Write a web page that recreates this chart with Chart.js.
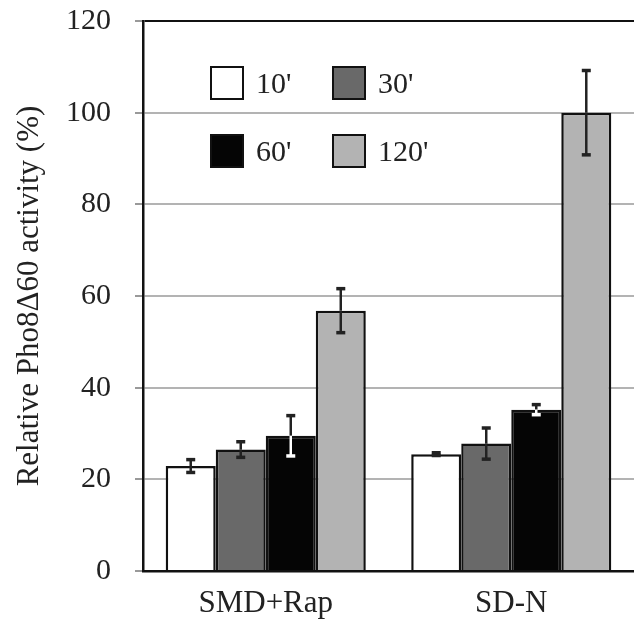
<!DOCTYPE html>
<html>
<head>
<meta charset="utf-8">
<script src="https://cdn.jsdelivr.net/npm/chart.js@4"></script>
<style>
  html, body { margin: 0; padding: 0; background: #fff; overflow: hidden; }
  #wrap { position: relative; width: 634px; height: 621px; }
  #legend { position: absolute; left: 210px; top: 66px; font-family: "Liberation Serif", serif; font-size: 30px; color: #222; }
  .item { position: absolute; display: flex; align-items: center; white-space: nowrap; }
  .box { width: 30px; height: 30px; border: 2px solid #111; margin-right: 12px; }
</style>
</head>
<body>
<div id="wrap">
  <canvas id="chartCanvas" width="634" height="621"></canvas>
  <div id="legend"></div>
</div>
<script>
const categories = ["SMD+Rap", "SD-N"];
const seriesLabels = ["10'", "30'", "60'", "120'"];
const seriesColors = ["#ffffff", "#696969", "#050505", "#b3b3b3"];
const values10 = [22.9, 25.5];
const values30 = [26.5, 27.8];
const values60 = [29.5, 35.2];
const values120 = [56.8, 100];
const err10 = [1.4, 0.3];
const err30 = [1.7, 3.4];
const err60 = [4.4, 1.1];
const err120 = [4.8, 9.2];
const yTicks = [0, 20, 40, 60, 80, 100, 120];

const seriesValues = [values10, values30, values60, values120];
const seriesErrors = [err10, err30, err60, err120];
const font = "Liberation Serif";

// error bars drawn from the y scale; the part inside the black bar is white
const errorBars = {
  id: "errorBars",
  afterDatasetsDraw(chart) {
    const ctx = chart.ctx;
    const y = chart.scales.y;
    chart.data.datasets.forEach((ds, i) => {
      const meta = chart.getDatasetMeta(i);
      meta.data.forEach((bar, j) => {
        const v = ds.data[j];
        const e = ds.errors[j];
        const yTop = y.getPixelForValue(v + e);
        const yMid = y.getPixelForValue(v);
        const yBot = y.getPixelForValue(v - e);
        ctx.save();
        ctx.lineWidth = 2.5;
        ctx.strokeStyle = "#222";
        ctx.beginPath();
        ctx.moveTo(bar.x, yTop);
        ctx.lineTo(bar.x, yMid);
        ctx.stroke();
        ctx.lineWidth = 3.5;
        ctx.beginPath();
        ctx.moveTo(bar.x - 4.5, yTop);
        ctx.lineTo(bar.x + 4.5, yTop);
        ctx.stroke();
        ctx.strokeStyle = ds.lowerErrColor;
        ctx.lineWidth = 2.5;
        ctx.beginPath();
        ctx.moveTo(bar.x, yMid);
        ctx.lineTo(bar.x, yBot);
        ctx.stroke();
        ctx.lineWidth = 3.5;
        ctx.beginPath();
        ctx.moveTo(bar.x - 4.5, yBot);
        ctx.lineTo(bar.x + 4.5, yBot);
        ctx.stroke();
        ctx.restore();
      });
    });
  }
};

const datasets = seriesLabels.map((label, i) => ({
  label: label,
  data: seriesValues[i],
  errors: seriesErrors[i],
  lowerErrColor: i === 2 ? "#ffffff" : "#222",
  backgroundColor: seriesColors[i],
  borderColor: "#111",
  borderWidth: 2.5,
  barPercentage: 1,
  categoryPercentage: 0.815
}));

new Chart(document.getElementById("chartCanvas"), {
  type: "bar",
  data: { labels: categories, datasets: datasets },
  options: {
    responsive: false,
    animation: false,
    layout: { padding: { top: 21, right: 0, left: 0, bottom: 0 } },
    plugins: { legend: { display: false }, tooltip: { enabled: false } },
    scales: {
      x: {
        grid: { display: false, drawTicks: false },
        border: { color: "#111", width: 2.5 },
        ticks: { color: "#222", font: { family: font, size: 31 }, padding: 14 },
        afterFit(scale) { scale.height = 50; }
      },
      y: {
        min: 0,
        max: 120,
        afterBuildTicks(scale) { scale.ticks = yTicks.map(v => ({ value: v })); },
        grid: {
          color: (c) => (c.tick && c.tick.value === 120 ? "#111" : "#b3b3b3"),
          lineWidth: 2,
          tickLength: 8,
          tickColor: "#999"
        },
        border: { color: "#111", width: 2.5 },
        ticks: { color: "#222", font: { family: font, size: 30 }, padding: 24 },
        title: {
          display: true,
          text: "Relative Pho8\u039460 activity (%)",
          color: "#222",
          font: { family: font, size: 31, weight: "normal" },
          padding: { top: 11, bottom: 0 }
        },
        afterFit(scale) {
          scale.width = 143;
          scale.paddingTop = 0;
          scale.paddingBottom = 0;
        }
      }
    }
  },
  plugins: [errorBars]
});

// legend in a 2 x 2 grid inside the plot
const legend = document.getElementById("legend");
seriesLabels.forEach((label, i) => {
  const item = document.createElement("div");
  item.className = "item";
  item.style.left = (i % 2) * 122 + "px";
  item.style.top = Math.floor(i / 2) * 68 + "px";
  const box = document.createElement("div");
  box.className = "box";
  box.style.background = seriesColors[i];
  const txt = document.createElement("span");
  txt.textContent = label;
  item.appendChild(box);
  item.appendChild(txt);
  legend.appendChild(item);
});
</script>
</body>
</html>
